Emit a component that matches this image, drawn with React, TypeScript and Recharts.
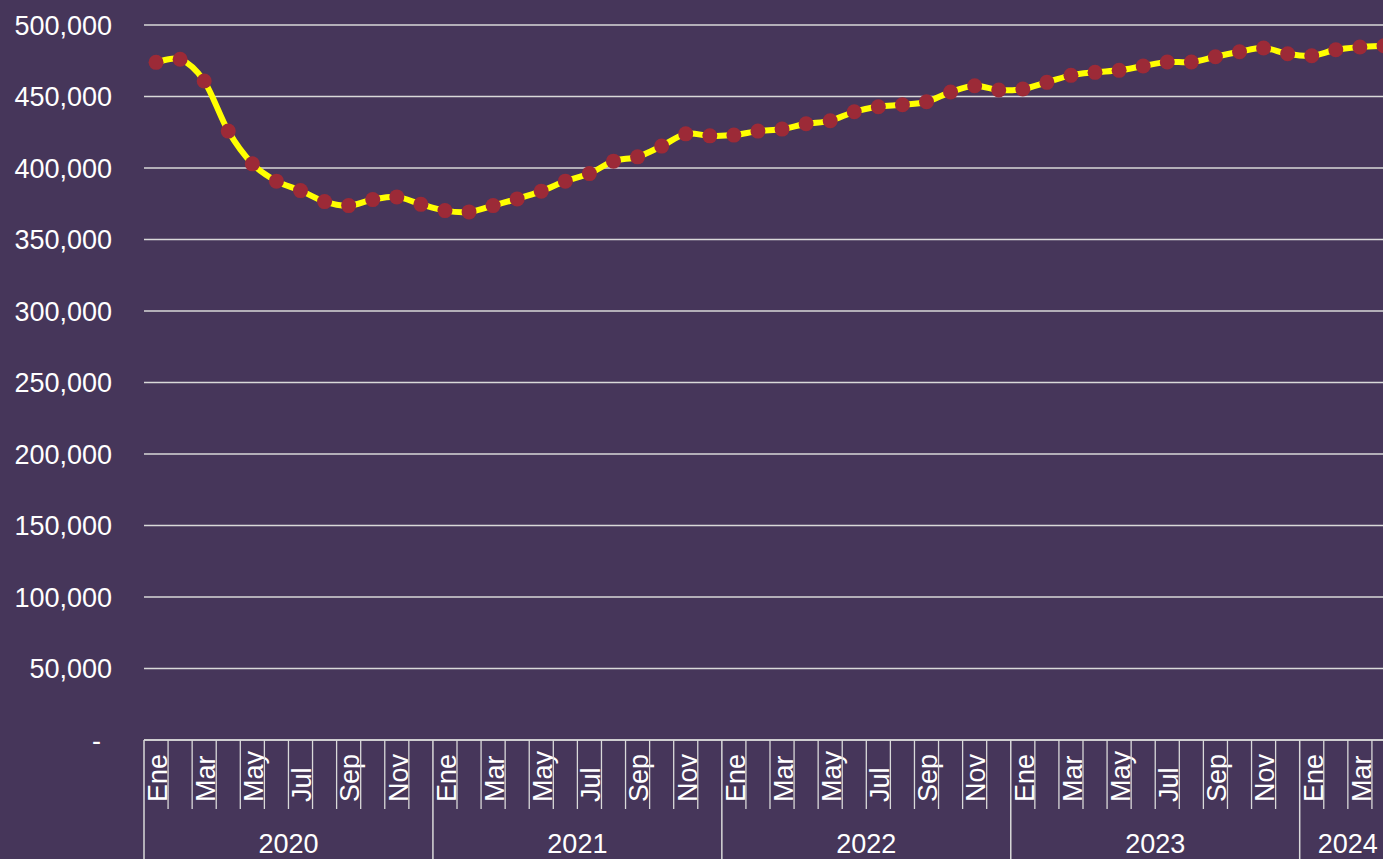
import React from 'react';
import { LineChart, Line, XAxis, YAxis, CartesianGrid } from 'recharts';

const MONTHS = ['Ene', 'Feb', 'Mar', 'Abr', 'May', 'Jun', 'Jul', 'Ago', 'Sep', 'Oct', 'Nov', 'Dic'];
const YEARS = ['2020', '2021', '2022', '2023', '2024'];
const MONTHS_PER_YEAR = [12, 12, 12, 12, 4];

const VALUES = [
  473900, 476000, 460800, 425800, 402900, 390800, 384200, 376500, 373700, 377900, 379800, 374600,
  370200, 369300, 373700, 378400, 383800, 390800, 396100, 404800, 407800, 415300, 423900, 422500,
  423000, 425800, 427200, 430900, 433000, 439300, 442800, 444200, 446300, 453100, 457500, 454500,
  455200, 459900, 464800, 466900, 468300, 471300, 474100, 474100, 477800, 481300, 483900, 479900,
  478500, 482700, 484600, 485500,
];

const Y_TICKS = [0, 50000, 100000, 150000, 200000, 250000, 300000, 350000, 400000, 450000, 500000];

const data = VALUES.map((v, i) => ({
  i,
  value: v,
  month: MONTHS[i % 12],
  year: YEARS[Math.floor(i / 12)],
}));

const CHART_W = 1410;
const CHART_H = 880;
const MARGIN = { top: 25, right: 14, bottom: 0, left: 0 };
const Y_AXIS_W = 144;
const X_AXIS_H = 140;
const BW = (CHART_W - MARGIN.right - MARGIN.left - Y_AXIS_W) / VALUES.length;

const BG = '#46365A';
const GRID = '#D9D9D9';
const TEXT = '#FFFFFF';
const FONT = '"Liberation Sans", Arial, sans-serif';
const FS = 27;

// Excel-style smoothed line (Catmull-Rom / Bezier with 1/6 tangents)
function excelCurve(context: any) {
  let pts: number[][] = [];
  return {
    areaStart() {},
    areaEnd() {},
    lineStart() {
      pts = [];
    },
    point(x: number, y: number) {
      pts.push([+x, +y]);
    },
    lineEnd() {
      const n = pts.length;
      if (!n) return;
      context.moveTo(pts[0][0], pts[0][1]);
      for (let i = 0; i < n - 1; i++) {
        const p0 = pts[i - 1] || pts[i];
        const p1 = pts[i];
        const p2 = pts[i + 1];
        const p3 = pts[i + 2] || p2;
        context.bezierCurveTo(
          p1[0] + (p2[0] - p0[0]) / 6,
          p1[1] + (p2[1] - p0[1]) / 6,
          p2[0] - (p3[0] - p1[0]) / 6,
          p2[1] - (p3[1] - p1[1]) / 6,
          p2[0],
          p2[1]
        );
      }
    },
  };
}

function MonthTick(props: any) {
  const { x, y, payload } = props;
  const i = payload.value as number;
  const m = i % 12;
  const yi = Math.floor(i / 12);
  const left = x - BW / 2;
  const isYearStart = m === 0;
  const label = MONTHS[m];
  const lx = x + 10.8;
  const ly = y + 62;
  return (
    <g>
      <line
        x1={left}
        x2={left}
        y1={y}
        y2={isYearStart ? y + 200 : y + 69}
        stroke={GRID}
        strokeWidth={isYearStart ? 1.5 : 1.3}
      />
      {m % 2 === 0 && (
        <text
          x={lx}
          y={ly}
          transform={`rotate(-90 ${lx} ${ly})`}
          textAnchor="start"
          fill={TEXT}
          fontSize={FS}
          fontFamily={FONT}
        >
          {label}
        </text>
      )}
      {isYearStart && (
        <text
          x={left + (MONTHS_PER_YEAR[yi] * BW) / 2}
          y={y + 113}
          textAnchor="middle"
          fill={TEXT}
          fontSize={FS}
          fontFamily={FONT}
        >
          {YEARS[yi]}
        </text>
      )}
    </g>
  );
}

function ValueTick(props: any) {
  const { y, payload } = props;
  const v = payload.value as number;
  const isZero = v === 0;
  return (
    <text
      x={isZero ? 101 : 112}
      y={y}
      dy="0.355em"
      textAnchor="end"
      fill={TEXT}
      fontSize={FS}
      fontFamily={FONT}
    >
      {isZero ? '-' : v.toLocaleString('en-US')}
    </text>
  );
}

export default function App() {
  return (
    <div
      style={{
        position: 'fixed',
        left: 0,
        top: 0,
        width: 1383,
        height: 859,
        overflow: 'hidden',
        background: BG,
        fontFamily: FONT,
      }}
    >
      <LineChart width={CHART_W} height={CHART_H} data={data} margin={MARGIN}>
        <CartesianGrid vertical={false} stroke={GRID} strokeWidth={1.5} />
        <XAxis
          dataKey="i"
          type="number"
          domain={[-0.5, VALUES.length - 0.5]}
          ticks={data.map((d) => d.i)}
          interval={0}
          tick={<MonthTick />}
          tickLine={false}
          tickSize={0}
          tickMargin={0}
          axisLine={{ stroke: GRID, strokeWidth: 1.5 }}
          height={X_AXIS_H}
          allowDataOverflow
        />
        <YAxis
          type="number"
          domain={[0, 500000]}
          ticks={Y_TICKS}
          interval={0}
          width={Y_AXIS_W}
          axisLine={false}
          tickLine={false}
          tickSize={0}
          tick={<ValueTick />}
        />
        <Line
          dataKey="value"
          type={excelCurve as any}
          stroke="#FFFF00"
          strokeWidth={6}
          dot={{ r: 7.5, fill: '#9C2A37', stroke: 'none', strokeWidth: 0 }}
          activeDot={false}
          isAnimationActive={false}
        />
      </LineChart>
    </div>
  );
}
